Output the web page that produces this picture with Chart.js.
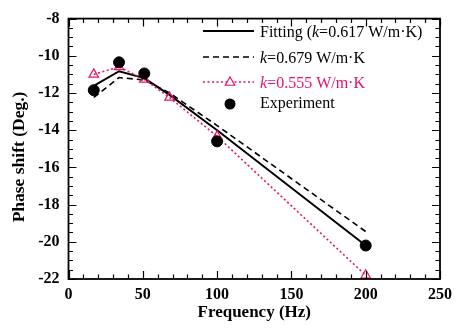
<!DOCTYPE html>
<html><head><meta charset="utf-8">
<script src="https://cdn.jsdelivr.net/npm/chart.js@4/dist/chart.umd.min.js"></script>
<style>html,body{margin:0;padding:0;background:#fff}canvas{display:block}</style>
</head><body>
<canvas id="c" width="458" height="332"></canvas>
<script>
const freqModel = [17, 34, 51, 68, 100, 200];
const fitting = [-11.62, -10.83, -11.2, -12.1, -14.0, -20.2];
const k679 = [-12.24, -11.17, -11.3, -12.0, -13.75, -19.45];
const k555 = [-11.0, -10.6, -11.27, -12.24, -14.33, -21.8];
const freqExp = [17, 34, 51, 100, 200];
const experiment = [-11.85, -10.35, -10.95, -14.6, -20.2];
const xTicks = [0, 50, 100, 150, 200, 250];
const yTicks = [-8, -10, -12, -14, -16, -18, -20, -22];
const xTitle = 'Frequency (Hz)';
const yTitle = 'Phase shift (Deg.)';
const legendLabels = [
  ["Fitting (", "k", "=0.617 W/m·K)"],
  ["", "k", "=0.679 W/m·K"],
  ["", "k", "=0.555 W/m·K"],
  ["Experiment", "", ""]
];
const PINK = '#e3126f';
const SERIF = '"Liberation Serif", "Times New Roman", serif';
const pts = (xs, ys) => xs.map((x, i) => ({x, y: ys[i]}));

const frame = {
  id: 'frame',
  afterDatasetsDraw(chart) {
    const {ctx, chartArea: a, scales: {x, y}} = chart;
    ctx.save();
    ctx.strokeStyle = '#000';
    ctx.lineWidth = 1.2;
    for (let v = 0; v <= 250; v += 10) {
      const px = Math.round(x.getPixelForValue(v)) + 0.5;
      const len = v % 50 === 0 ? 8 : 4.5;
      ctx.beginPath();
      ctx.moveTo(px, a.bottom); ctx.lineTo(px, a.bottom - len);
      ctx.moveTo(px, a.top); ctx.lineTo(px, a.top + len);
      ctx.stroke();
    }
    for (let v = -22; v <= -8; v += 0.5) {
      const py = Math.round(y.getPixelForValue(v)) + 0.5;
      const len = Math.abs(v % 2) < 1e-9 ? 8 : 4.5;
      ctx.beginPath();
      ctx.moveTo(a.left, py); ctx.lineTo(a.left + len, py);
      ctx.moveTo(a.right, py); ctx.lineTo(a.right - len, py);
      ctx.stroke();
    }
    ctx.lineWidth = 1.8;
    ctx.strokeRect(a.left, a.top, a.right - a.left, a.bottom - a.top);

    // y-axis title
    ctx.save();
    ctx.translate(19, 157);
    ctx.rotate(-Math.PI / 2);
    ctx.font = 'bold 17.5px ' + SERIF;
    ctx.fillStyle = '#000';
    ctx.textAlign = 'center';
    ctx.textBaseline = 'middle';
    ctx.fillText(yTitle, 0, 0);
    ctx.restore();

    // legend
    const lx0 = 203, lx1 = 254, tx = 260;
    const rows = [31, 57, 82, 104];
    const textY = [33, 59, 84, 104];
    const styles = [
      {dash: [], color: '#000', w: 2},
      {dash: [6, 4], color: '#000', w: 1.6},
      {dash: [2, 2.5], color: PINK, w: 1.6},
      null
    ];
    rows.forEach((ry, i) => {
      const s = styles[i];
      if (s) {
        ctx.beginPath();
        ctx.setLineDash(s.dash);
        ctx.strokeStyle = s.color; ctx.lineWidth = s.w;
        ctx.moveTo(lx0, ry); ctx.lineTo(lx1, ry); ctx.stroke();
        ctx.setLineDash([]);
      }
      if (i === 2) {
        ctx.beginPath();
        ctx.fillStyle = '#fff'; ctx.strokeStyle = PINK; ctx.lineWidth = 1.2;
        const r = 5;
        ctx.moveTo(230, ry - r); ctx.lineTo(230 + r * 0.95, ry + r * 0.65); ctx.lineTo(230 - r * 0.95, ry + r * 0.65); ctx.closePath();
        ctx.fill(); ctx.stroke();
      }
      if (i === 3) {
        ctx.beginPath(); ctx.fillStyle = '#000';
        ctx.arc(230, ry, 5.5, 0, Math.PI * 2); ctx.fill();
      }
      const [a1, it, a2] = legendLabels[i];
      ctx.fillStyle = i === 2 ? PINK : '#000';
      ctx.textBaseline = 'middle';
      ctx.textAlign = 'left';
      let cx = tx;
      ctx.font = '16px ' + SERIF;
      ctx.fillText(a1, cx, textY[i]); cx += ctx.measureText(a1).width;
      ctx.font = 'italic 16px ' + SERIF;
      ctx.fillText(it, cx, textY[i]); cx += ctx.measureText(it).width;
      ctx.font = '16px ' + SERIF;
      ctx.fillText(a2, cx, textY[i]);
    });
    ctx.restore();
  }
};

const tickFont = {family: SERIF, size: 16, weight: 'bold'};
const titleFont = {family: SERIF, size: 17, weight: 'bold'};

new Chart(document.getElementById('c'), {
  type: 'scatter',
  data: {
    datasets: [
      {data: pts(freqModel, fitting), showLine: true, borderColor: '#000', borderWidth: 2, pointRadius: 0, order: 3},
      {data: pts(freqModel, k679), showLine: true, borderColor: '#000', borderWidth: 1.6, borderDash: [6, 4], pointRadius: 0, order: 2},
      {data: pts(freqModel, k555), showLine: true, borderColor: PINK, borderWidth: 1.6, borderDash: [2, 2.5], pointStyle: 'triangle', pointRadius: 5.5, pointBorderWidth: 1.2, pointBorderColor: PINK, pointBackgroundColor: 'rgba(255,255,255,0)', order: 1},
      {data: pts(freqExp, experiment), showLine: false, pointRadius: 5.5, pointBackgroundColor: '#000', pointBorderColor: '#000', order: 0}
    ]
  },
  options: {
    responsive: false,
    animation: false,
    layout: {padding: {top: 14, right: 12, left: 0, bottom: 0}},
    plugins: {legend: {display: false}, tooltip: {enabled: false}},
    scales: {
      x: {
        type: 'linear', min: 0, max: 250,
        afterBuildTicks: s => { s.ticks = xTicks.map(v => ({value: v})); },
        afterFit: s => { s.height = 53; },
        grid: {display: false, drawTicks: false},
        border: {display: false},
        ticks: {color: '#000', font: tickFont, padding: 6, maxRotation: 0},
        title: {display: true, text: xTitle, color: '#000', font: titleFont, padding: {top: 0, bottom: 9}}
      },
      y: {
        type: 'linear', min: -22, max: -8,
        afterBuildTicks: s => { s.ticks = yTicks.map(v => ({value: v})); },
        afterFit: s => { s.width = 68.5; },
        grid: {display: false, drawTicks: false},
        border: {display: false},
        ticks: {color: '#000', font: tickFont, padding: 9},
        title: {display: false, text: yTitle}
      }
    }
  },
  plugins: [frame]
});
</script>
</body></html>
